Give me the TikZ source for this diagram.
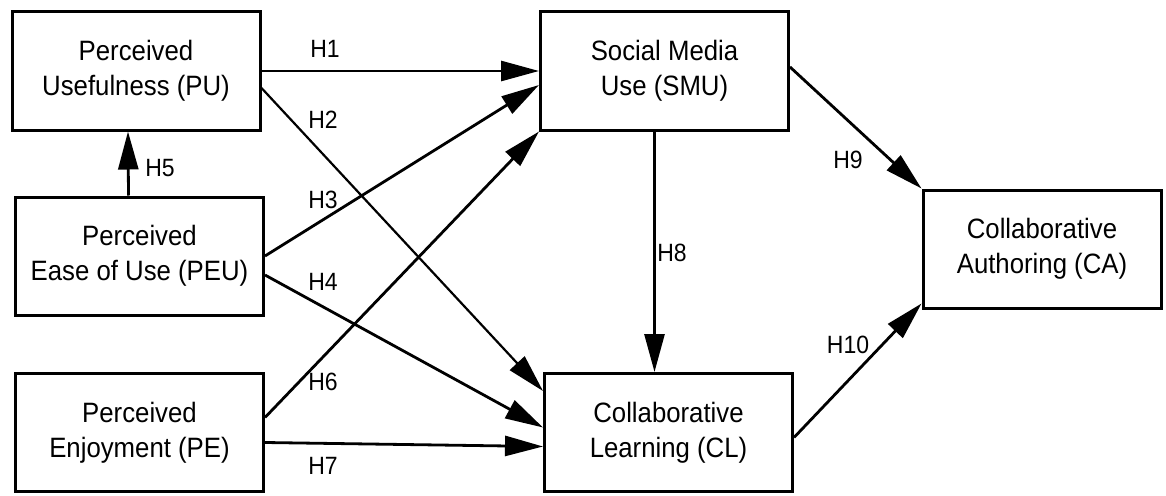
\documentclass[tikz,border=0pt]{standalone}
\usepackage{fontspec}
\setmainfont{Liberation Sans}[FakeStretch=0.92]
\usetikzlibrary{arrows.meta}
\tikzset{
  construct/.style={draw, line width=3pt, minimum width=248pt, minimum height=118pt,
    inner sep=0pt, align=center, font=\fontsize{28}{35}\selectfont},
  hyp/.style={line width=2.8pt, -{Triangle[length=38pt,width=20pt]}},
  hlabel/.style={inner sep=0pt, font=\fontsize{25}{28}\selectfont}
}
\begin{document}
\begin{tikzpicture}[x=1pt,y=-1pt]
      \useasboundingbox (0,0) rectangle (1166,495);
      \node[construct] (pu) at (136,71) {Perceived\\Usefulness (PU)};
      \node[construct] (peu) at (139.5,256) {Perceived\\Ease of Use (PEU)};
      \node[construct] (pe) at (139.5,432.5) {Perceived\\Enjoyment (PE)};
      \node[construct] (smu) at (664.5,71) {Social Media\\Use (SMU)};
      \node[construct] (cl) at (668.5,432.5) {Collaborative\\Learning (CL)};
      \node[construct, minimum width=238pt] (ca) at (1042,249) {Collaborative\\Authoring (CA)};
      \draw[hyp] (pu.east) -- (smu.west);
      \draw[hyp, line width=2.2pt] ([yshift=-17pt]pu.east) -- ([yshift=-19pt]cl.north west);
      \draw[hyp] (peu.east) -- ([yshift=-14pt]smu.west);
      \draw[hyp] ([yshift=-19pt]peu.east) -- ([yshift=5pt]cl.west);
      \draw[hyp] ([xshift=-11pt]peu.north) -- ([xshift=-8pt]pu.south);
      \draw[hyp] ([yshift=15pt]pe.east) -- (smu.south west);
      \draw[hyp] ([yshift=-10pt]pe.east) -- ([yshift=-14pt]cl.west);
      \draw[hyp] ([xshift=-10pt]smu.south) -- ([xshift=-14pt]cl.north);
      \draw[hyp] ([yshift=4pt]smu.east) -- (ca.north west);
      \draw[hyp] ([yshift=-5pt]cl.east) -- ([yshift=6pt]ca.south west);
      \node[hlabel] (h1) at (325,49) {H1};
      \node[hlabel] (h2) at (323,120) {H2};
      \node[hlabel] (h3) at (323,200) {H3};
      \node[hlabel] (h4) at (323,282) {H4};
      \node[hlabel] (h5) at (160,168) {H5};
      \node[hlabel] (h6) at (323,382) {H6};
      \node[hlabel] (h7) at (323,466) {H7};
      \node[hlabel] (h8) at (672,253) {H8};
      \node[hlabel] (h9) at (848,160) {H9};
      \node[hlabel] (h10) at (848,345) {H10};
\end{tikzpicture}
\end{document}
